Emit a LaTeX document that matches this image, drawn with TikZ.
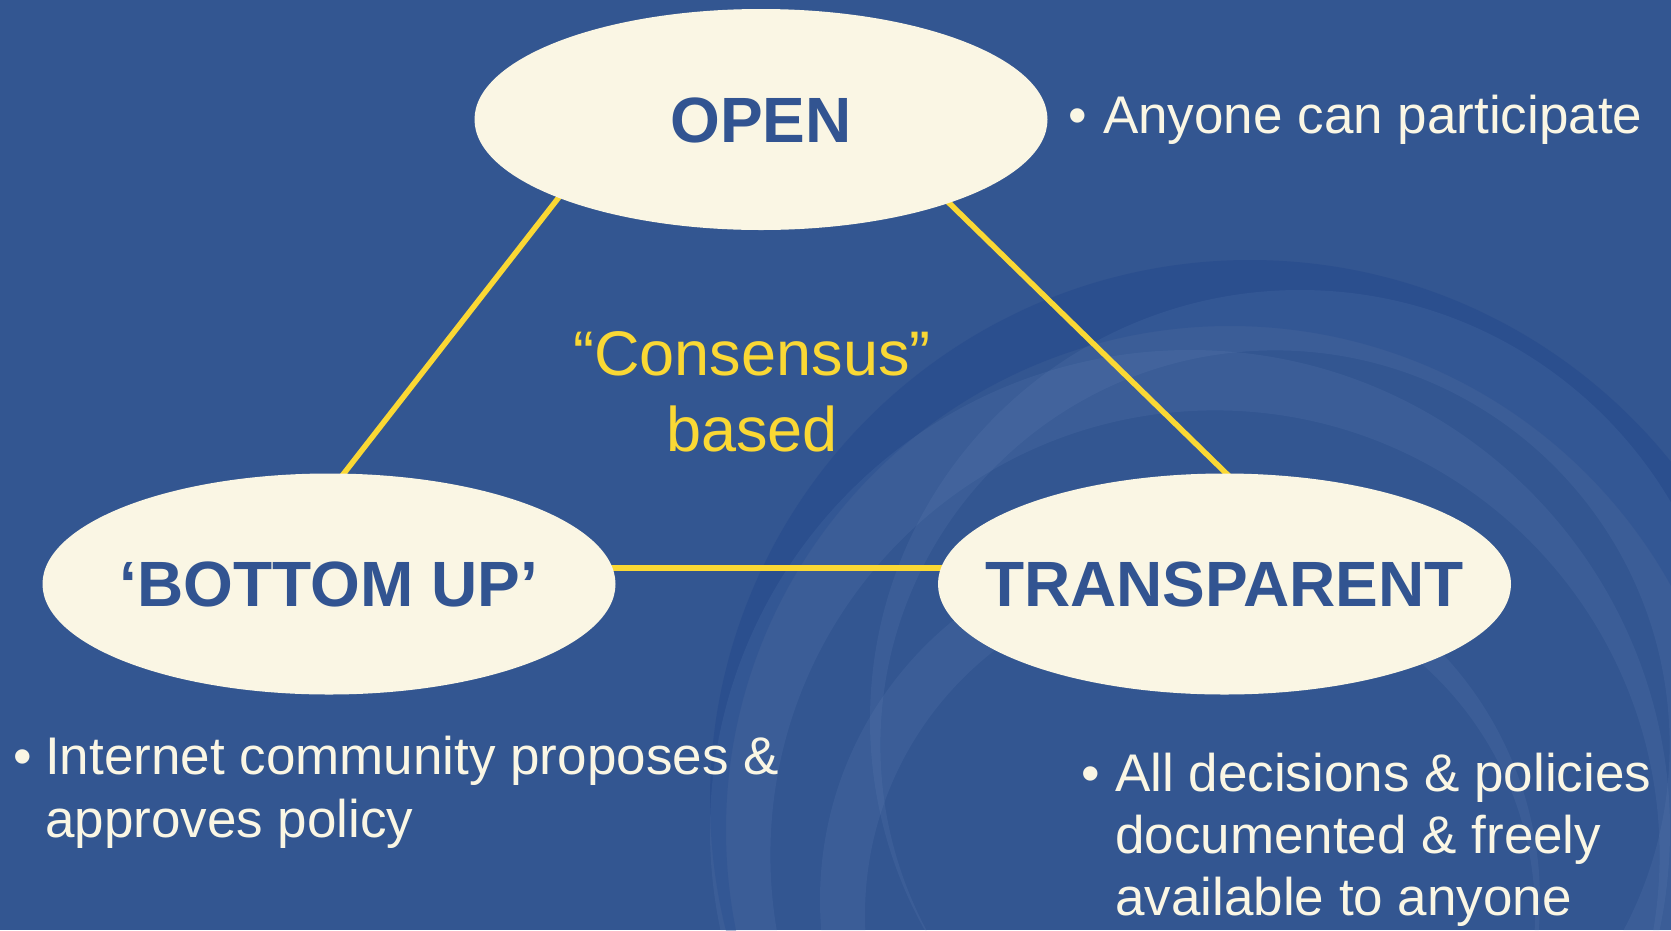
\documentclass[tikz,border=0pt]{standalone}
\usepackage{fontspec}
\setmainfont{Liberation Sans}
\usetikzlibrary{shapes.geometric,backgrounds}
\definecolor{bgblue}{RGB}{51,86,145}
\definecolor{cream}{RGB}{250,246,228}
\definecolor{gold}{RGB}{250,216,52}
\definecolor{txtblue}{RGB}{50,84,145}
\definecolor{darkswirl}{RGB}{30,66,138}
\definecolor{lightswirl}{RGB}{140,170,215}
\newcommand\ovaltext[1]{\smash{\raisebox{-0.358em}{\makebox[0pt]{#1}}}}
\begin{document}
\begin{tikzpicture}[x=1pt,y=-1pt,
  oval/.style={ellipse, fill=cream, minimum width=573pt, minimum height=221pt,
    inner sep=0pt, text=txtblue, font=\fontsize{64}{64}\selectfont\bfseries},
  link/.style={draw=gold, line width=5.5pt},
  bodytext/.style={anchor=base west, inner sep=0pt, align=left, text=cream},
  swirldark/.style={fill=darkswirl, opacity=0.35, even odd rule},
  swirllight/.style={fill=lightswirl, opacity=0.09, even odd rule},
  ]
\useasboundingbox (0,0) rectangle (1671,930);
% ellipses
\node[oval] (open) at (761,119.5) {\ovaltext{OPEN}};
\node[oval] (bu) at (329,584) {\ovaltext{‘BOTTOM UP’}};
\node[oval] (tr) at (1224.5,584) {\ovaltext{TRANSPARENT}};
% centre text
\node[anchor=base, inner sep=0pt, align=center, text=gold,
  font=\fontsize{63}{76.7}\selectfont] (cons) at (752,451.7) {“Consensus”\\based};
% bullet texts
\node[bodytext, font=\fontsize{53}{63}\selectfont] (topen) at (1068.5,133.3)
  {\makebox[34.5pt][l]{•}Anyone can participate};
\node[bodytext, font=\fontsize{53}{63}\selectfont] (tbu) at (13.5,837)
  {\makebox[31.5pt][l]{•}Internet community proposes \&\\\hspace*{31.5pt}approves policy};
\node[bodytext, font=\fontsize{53}{62}\selectfont] (ttr) at (1081.5,915.7)
  {\makebox[33.5pt][l]{•}All decisions \& policies\\\hspace*{33.5pt}documented \& freely\\\hspace*{33.5pt}available to anyone};
\begin{scope}[on background layer]
% background
\fill[bgblue] (0,0) rectangle (1671,930);
% faint swirl in the background (tapered crescents)
\begin{scope}
\clip (0,0) rectangle (1671,930);
\fill[swirldark] (1250,800) circle[radius=540] (1230,830) circle[radius=504];
\fill[swirllight] (1190,830) circle[radius=480] (1215,855) circle[radius=444.6];
\fill[swirllight] (1300,720) circle[radius=430] (1275,745) circle[radius=394.6];
\fill[swirllight] (1180,900) circle[radius=360] (1200,915) circle[radius=335];
\end{scope}
% connectors
\draw[link] ([shift={(-198,72.5)}]open.center) -- ([shift={(9,-103)}]bu.center);
\draw[link] ([shift={(184,79.5)}]open.center) -- ([shift={(7.5,-105)}]tr.center);
\draw[link] ([shift={(0,-16)}]bu.center) -- ([shift={(0,-16)}]tr.center);
\end{scope}
\end{tikzpicture}
\end{document}
